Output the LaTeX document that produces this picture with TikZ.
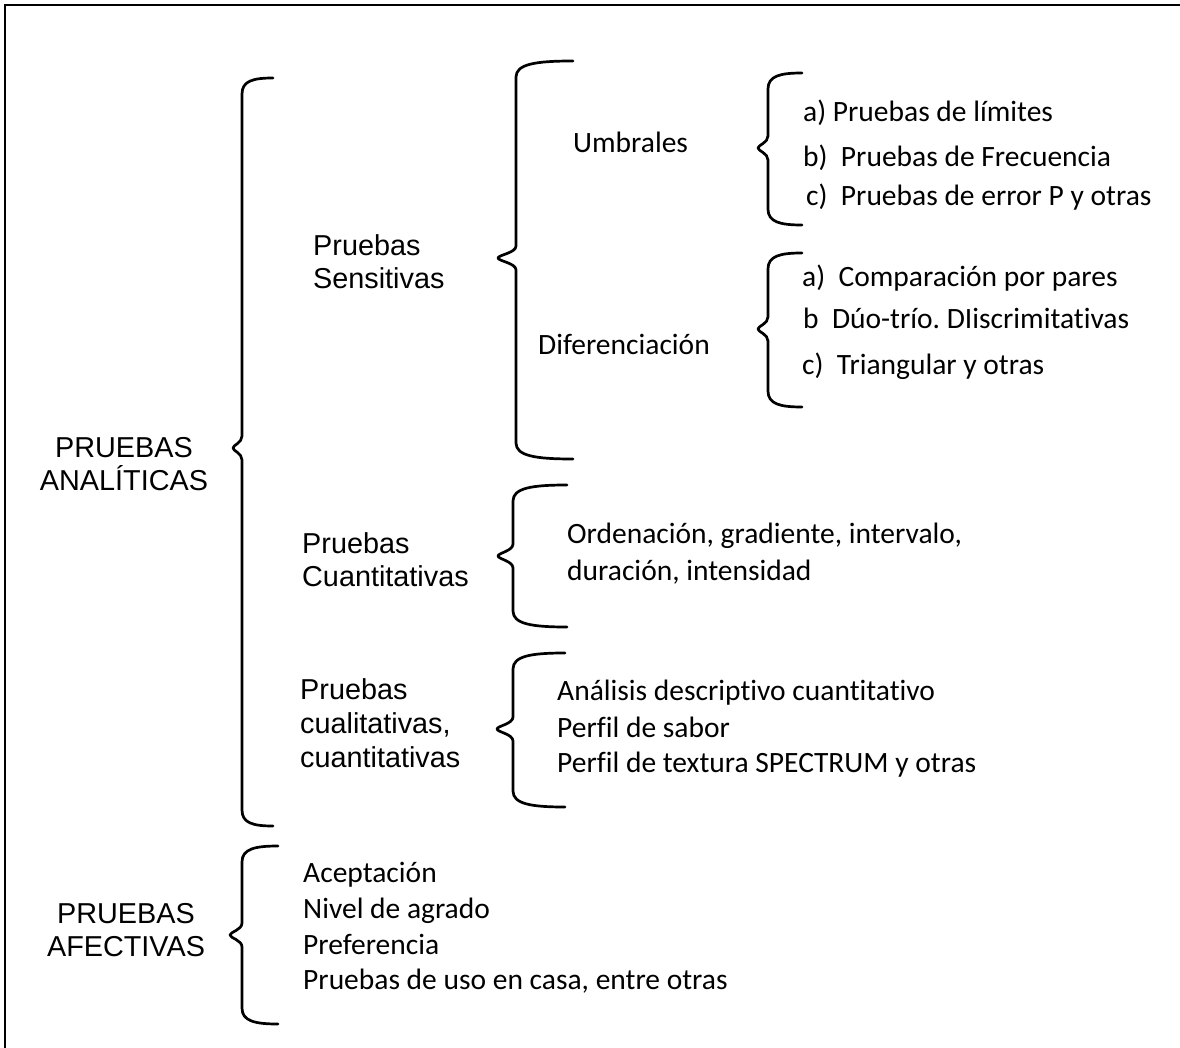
\documentclass[tikz,border=0pt]{standalone}
\usepackage{fontspec}
\usepackage{tikz}
\usetikzlibrary{positioning, calc}
\setmainfont{Carlito}[Ligatures=NoCommon]
\newfontfamily\arialfont{Liberation Sans}
\frenchspacing
% left curly brace: x vertical, x ends, x cusp, y top, y cusp, y bottom
\newcommand{\llave}[6]{%
	\draw[llave] (#2,#4) .. controls ({#1+0.35*(#2-#1)},#4) and (#1,{#4+3}) .. (#1,{#4+16})
		-- (#1,{#5-12}) .. controls (#1,{#5-5}) and (#3,{#5-3}) .. (#3,#5)
		.. controls (#3,{#5+3}) and (#1,{#5+5}) .. (#1,{#5+12})
		-- (#1,{#6-16}) .. controls (#1,{#6-3}) and ({#1+0.35*(#2-#1)},#6) .. (#2,#6);}
\tikzset{
	llave/.style  ={line width=2.7pt, line cap=round, line join=round},
	marco/.style  ={line width=1.4pt},
	item/.style   ={anchor=base west, inner sep=0pt, font=\fontsize{29.5}{37}\selectfont},
	titulo/.style ={anchor=base west, inner sep=0pt, align=left, font=\arialfont\fontsize{28.8}{33}\selectfont},
	grupo/.style  ={anchor=base, inner sep=0pt, align=center, font=\arialfont\fontsize{28.8}{33}\selectfont},
}
\begin{document}
\begin{tikzpicture}[x=1pt, y=-1pt]
	\useasboundingbox (0,0) rectangle (1180,1048);
	\draw[marco] (5,1048) -- (5,5) -- (1180,5);
	% main groups (base = last line)
	\node[grupo] (analiticas) at (124,490) {PRUEBAS\\ANALÍTICAS};
	\node[grupo] (afectivas) at (126,956) {PRUEBAS\\AFECTIVAS};
	\llave{242}{273}{233}{78}{448}{826}
	\llave{242}{278}{230}{846}{935}{1024}
	% analytic tests
	\node[titulo] (sensitivas) at (313,289) {Pruebas\\Sensitivas};
	\node[titulo] (cuantitativas) at (302,586) {Pruebas\\Cuantitativas};
	\node[titulo, font=\arialfont\fontsize{28.8}{34}\selectfont] (cualitativas) at (300,767) {Pruebas\\cualitativas,\\cuantitativas};
	\llave{516}{573}{498}{61}{258}{459}
	\llave{513}{567}{498}{485}{556}{627}
	\llave{513}{565}{497}{653}{729}{807}
	% sensitive tests
	\node[item] (umbrales) at (573,153) {Umbrales};
	\node[item] (diferencia) at (538,355) {Diferenciación};
	\llave{768}{802}{758}{73}{148}{225}
	\llave{768}{802}{758}{253}{329}{407}
	\node[item] (umbA) at (803,122) {a) Pruebas de límites};
	\node[item] (umbB) at (803,167) {b)\ \ Pruebas de Frecuencia};
	\node[item] (umbC) at (806,206) {c)\ \ Pruebas de error P y otras};
	\node[item] (difA) at (802,287) {a)\ \ Comparación por pares};
	\node[item] (difB) at (803,329) {b\ \ Dúo-trío. DIiscrimitativas};
	\node[item] (difC) at (802,374) {c)\ \ Triangular y otras};
	% quantitative and descriptive
	\node[item, align=left] (escalas) at (567,580) {Ordenación, gradiente, intervalo,\\duración, intensidad};
	\node[item] (descriptivo) at (557,700) {Análisis descriptivo cuantitativo};
	\node[item] (sabor) at (557,737) {Perfil de sabor};
	\node[item] (textura) at (557,772) {Perfil de textura SPECTRUM y otras};
	% affective tests
	\node[item] (aceptacion) at (303,882) {Aceptación};
	\node[item] (agrado) at (303,918) {Nivel de agrado};
	\node[item] (preferencia) at (303,954) {Preferencia};
	\node[item] (uso) at (303,989) {Pruebas de uso en casa, entre otras};
\end{tikzpicture}
\end{document}
